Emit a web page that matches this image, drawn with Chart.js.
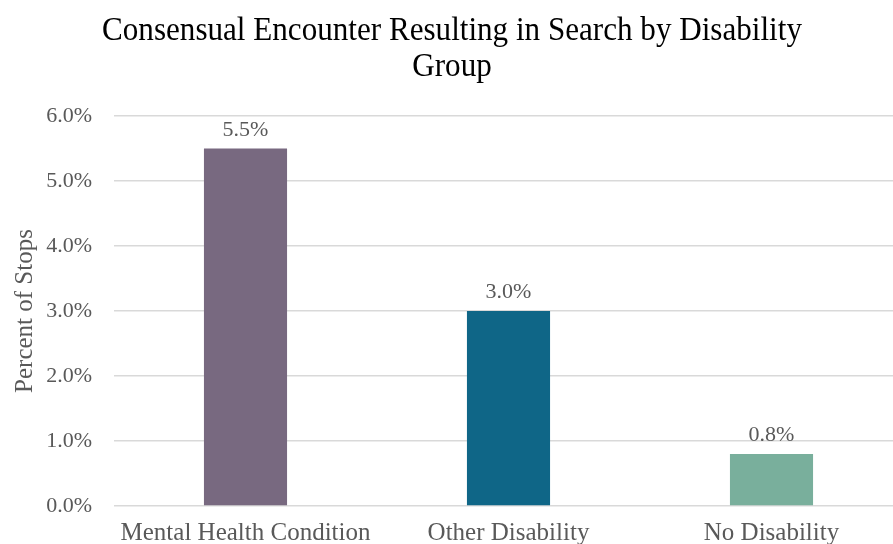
<!DOCTYPE html>
<html>
<head>
<meta charset="utf-8">
<script src="https://cdn.jsdelivr.net/npm/chart.js@4"></script>
<style>
  html,body{margin:0;padding:0;background:#fff;overflow:hidden;}
  #wrap{width:903px;height:544px;position:relative;}
</style>
</head>
<body>
<div id="wrap"><canvas id="chart"></canvas></div>
<script>
// chart data
const categorias=['Mental Health Condition','Other Disability','No Disability'];
const valores=[0.055,0.030,0.008];
const cores=['#786980','#0F6687','#79AF9C'];
const titulo=['Consensual Encounter Resulting in Search by Disability','Group'];
const eixoY='Percent of Stops';

const fonte="'Liberation Serif','Times New Roman',serif";
const cinza='#595959';

// rótulos acima das barras
const rotulos={
  id:'rotulos',
  afterDatasetsDraw(chart){
    const ctx=chart.ctx;
    const meta=chart.getDatasetMeta(0);
    ctx.save();
    ctx.font=`22px ${fonte}`;
    ctx.fillStyle=cinza;
    ctx.textAlign='center';
    ctx.textBaseline='alphabetic';
    meta.data.forEach((bar,i)=>{
      ctx.fillText((valores[i]*100).toFixed(1)+'%',bar.x,bar.y-13);
    });
    ctx.restore();
  }
};

// título um pouco condensado, como no original
const tituloPlugin={
  id:'tituloCondensado',
  afterDraw(chart){
    const ctx=chart.ctx;
    ctx.save();
    ctx.font=`34px ${fonte}`;
    ctx.fillStyle='#000';
    ctx.textAlign='center';
    ctx.textBaseline='alphabetic';
    titulo.forEach((linha,i)=>{
      ctx.save();
      ctx.translate(452,40+i*36);
      ctx.scale(0.915,1);
      ctx.fillText(linha,0,0);
      ctx.restore();
    });
    ctx.restore();
  }
};

new Chart(document.getElementById('chart'),{
  type:'bar',
  data:{labels:categorias,datasets:[{data:valores,backgroundColor:cores,barPercentage:0.316,categoryPercentage:1}]},
  options:{responsive:true,maintainAspectRatio:false,animation:false,
    layout:{padding:{left:0,right:0,top:116,bottom:0}},
    plugins:{
      legend:{display:false},
      tooltip:{enabled:false},
      title:{display:false}
    },
    scales:{
      x:{grid:{display:false,drawTicks:false},border:{display:false},
        afterFit(s){s.height=38;},
        ticks:{color:cinza,font:{family:fonte,size:25},padding:12,maxRotation:0}},
      y:{min:0,max:0.06,
        afterFit(s){s.width=114;},
        grid:{color:'#D9D9D9',lineWidth:1.5,drawTicks:false},border:{display:false},
        ticks:{stepSize:0.01,color:cinza,font:{family:fonte,size:22},padding:22,callback:v=>(v*100).toFixed(1)+'%'},
        title:{display:true,text:eixoY,color:cinza,font:{family:fonte,size:25},padding:{top:10,bottom:0}}}
    }
  },
  plugins:[rotulos,tituloPlugin]
});
</script>
</body>
</html>
